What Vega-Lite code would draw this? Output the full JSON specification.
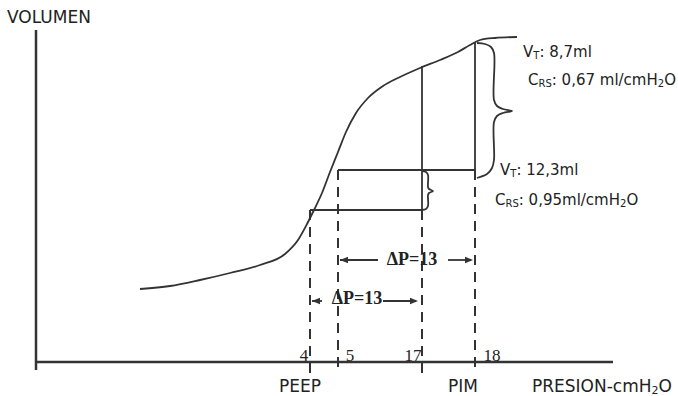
{
  "$schema": "https://vega.github.io/schema/vega-lite/v6.json",
  "width": 678,
  "height": 396,
  "padding": 0,
  "autosize": {"type": "fit", "contains": "padding"},
  "background": "white",
  "config": {"view": {"stroke": null}},
  "datasets": {
    "curve": [
      {"x": 140, "y": 107}, {"x": 170, "y": 110}, {"x": 200, "y": 116}, {"x": 230, "y": 123},
      {"x": 260, "y": 131}, {"x": 285, "y": 142}, {"x": 298, "y": 156}, {"x": 307, "y": 172},
      {"x": 314, "y": 186}, {"x": 322, "y": 203}, {"x": 330, "y": 224}, {"x": 338, "y": 244},
      {"x": 346, "y": 264}, {"x": 356, "y": 283}, {"x": 368, "y": 298}, {"x": 383, "y": 310},
      {"x": 400, "y": 319}, {"x": 420, "y": 328}, {"x": 440, "y": 336}, {"x": 458, "y": 344},
      {"x": 470, "y": 351}, {"x": 480, "y": 356}, {"x": 495, "y": 358}, {"x": 517, "y": 359}
    ],
    "axes": [
      {"x": 36, "y": 366, "x2": 36, "y2": 26},
      {"x": 36, "y": 34, "x2": 613, "y2": 34}
    ],
    "solid": [
      {"x": 338, "y": 226, "x2": 475, "y2": 226},
      {"x": 310, "y": 186, "x2": 422, "y2": 186},
      {"x": 422, "y": 330, "x2": 422, "y2": 186},
      {"x": 475, "y": 354, "x2": 475, "y2": 226},
      {"x": 340, "y": 136, "x2": 378, "y2": 136},
      {"x": 448, "y": 136, "x2": 471, "y2": 136},
      {"x": 312, "y": 95, "x2": 322, "y2": 95},
      {"x": 383, "y": 95, "x2": 416, "y2": 95}
    ],
    "dashed": [
      {"x": 310, "y": 186, "x2": 310, "y2": 23},
      {"x": 338, "y": 226, "x2": 338, "y2": 23},
      {"x": 422, "y": 186, "x2": 422, "y2": 23},
      {"x": 475, "y": 226, "x2": 475, "y2": 23}
    ],
    "braces": [
      {"b": "big", "i": 0, "x": 477, "y": 353}, {"b": "big", "i": 1, "x": 485, "y": 352},
      {"b": "big", "i": 2, "x": 491, "y": 349}, {"b": "big", "i": 3, "x": 494, "y": 343},
      {"b": "big", "i": 4, "x": 494, "y": 296}, {"b": "big", "i": 5, "x": 497, "y": 290},
      {"b": "big", "i": 6, "x": 503, "y": 287}, {"b": "big", "i": 7, "x": 512, "y": 285},
      {"b": "big", "i": 8, "x": 503, "y": 283}, {"b": "big", "i": 9, "x": 497, "y": 280},
      {"b": "big", "i": 10, "x": 494, "y": 274}, {"b": "big", "i": 11, "x": 494, "y": 236},
      {"b": "big", "i": 12, "x": 492, "y": 228}, {"b": "big", "i": 13, "x": 487, "y": 222},
      {"b": "big", "i": 14, "x": 477, "y": 218},
      {"b": "small", "i": 0, "x": 422, "y": 225}, {"b": "small", "i": 1, "x": 426, "y": 224},
      {"b": "small", "i": 2, "x": 428, "y": 221}, {"b": "small", "i": 3, "x": 428, "y": 209},
      {"b": "small", "i": 4, "x": 429, "y": 207}, {"b": "small", "i": 5, "x": 433, "y": 205},
      {"b": "small", "i": 6, "x": 429, "y": 203}, {"b": "small", "i": 7, "x": 428, "y": 201},
      {"b": "small", "i": 8, "x": 428, "y": 190}, {"b": "small", "i": 9, "x": 426, "y": 187},
      {"b": "small", "i": 10, "x": 422, "y": 186}
    ],
    "headsLeft": [{"x": 340, "y": 136}, {"x": 312, "y": 95}],
    "headsRight": [{"x": 473, "y": 136}, {"x": 418, "y": 95}],
    "axisLabelsCenter": [
      {"x": 300, "y": 9, "t": "PEEP"},
      {"x": 463, "y": 9, "t": "PIM"}
    ],
    "axisLabelsLeft": [
      {"x": 7, "y": 378, "t": "VOLUMEN"},
      {"x": 532, "y": 9, "t": "PRESION-cmH"},
      {"x": 658.5, "y": 9, "t": "O"}
    ],
    "axisSub": [{"x": 651.5, "y": 5, "t": "2"}],
    "notes": [
      {"x": 523, "y": 344, "t": "V"}, {"x": 539.4, "y": 344, "t": ": 8,7ml"},
      {"x": 528, "y": 316, "t": "C"}, {"x": 551.8, "y": 316, "t": ": 0,67 ml/cmH"}, {"x": 664.2, "y": 316, "t": "O"},
      {"x": 500, "y": 226, "t": "V"}, {"x": 516.4, "y": 226, "t": ": 12,3ml"},
      {"x": 495, "y": 196, "t": "C"}, {"x": 518.8, "y": 196, "t": ": 0,95ml/cmH"}, {"x": 626.4, "y": 196, "t": "O"}
    ],
    "notesSub": [
      {"x": 533.3, "y": 340, "t": "T"}, {"x": 538.5, "y": 312, "t": "RS"}, {"x": 657.8, "y": 312, "t": "2"},
      {"x": 510.3, "y": 222, "t": "T"}, {"x": 505.5, "y": 192, "t": "RS"}, {"x": 620, "y": 192, "t": "2"}
    ],
    "ticks": [
      {"x": 304, "y": 40, "t": "4"}, {"x": 350, "y": 40, "t": "5"},
      {"x": 413, "y": 40, "t": "17"}, {"x": 492, "y": 40, "t": "18"}
    ],
    "deltas": [
      {"x": 412, "y": 136, "t": "ΔP=13"},
      {"x": 357, "y": 97, "t": "ΔP=13"}
    ]
  },
  "encoding": {
    "x": {"field": "x", "type": "quantitative", "scale": {"domain": [0, 678], "nice": false, "zero": false}, "axis": null},
    "y": {"field": "y", "type": "quantitative", "scale": {"domain": [0, 396], "nice": false, "zero": false}, "axis": null}
  },
  "layer": [
    {"data": {"name": "axes"}, "mark": {"type": "rule", "color": "#333333", "strokeWidth": 2.5},
     "encoding": {"x2": {"field": "x2"}, "y2": {"field": "y2"}}},
    {"data": {"name": "solid"}, "mark": {"type": "rule", "color": "#333333", "strokeWidth": 1.8},
     "encoding": {"x2": {"field": "x2"}, "y2": {"field": "y2"}}},
    {"data": {"name": "dashed"}, "mark": {"type": "rule", "color": "#333333", "strokeWidth": 2, "strokeDash": [10, 7]},
     "encoding": {"x2": {"field": "x2"}, "y2": {"field": "y2"}}},
    {"data": {"name": "curve"}, "mark": {"type": "line", "color": "#333333", "strokeWidth": 1.8, "interpolate": "monotone"},
     "encoding": {}},
    {"data": {"name": "braces"}, "mark": {"type": "line", "color": "#333333", "strokeWidth": 1.8, "interpolate": "catmull-rom"},
     "encoding": {"detail": {"field": "b"}, "order": {"field": "i", "type": "quantitative"}}},
    {"data": {"name": "headsLeft"}, "mark": {"type": "point", "filled": true, "color": "#333333", "opacity": 1, "size": 256, "shape": "M0,0L1,-0.4L1,0.4Z"}},
    {"data": {"name": "headsRight"}, "mark": {"type": "point", "filled": true, "color": "#333333", "opacity": 1, "size": 256, "shape": "M0,0L-1,-0.4L-1,0.4Z"}},
    {"data": {"name": "axisLabelsCenter"}, "mark": {"type": "text", "font": "DejaVu Sans", "fontSize": 17, "align": "center", "baseline": "middle", "color": "#222222"},
     "encoding": {"text": {"field": "t"}}},
    {"data": {"name": "axisLabelsLeft"}, "mark": {"type": "text", "font": "DejaVu Sans", "fontSize": 17, "align": "left", "baseline": "middle", "color": "#222222"},
     "encoding": {"text": {"field": "t"}}},
    {"data": {"name": "axisSub"}, "mark": {"type": "text", "font": "DejaVu Sans", "fontSize": 11, "align": "left", "baseline": "middle", "color": "#222222"},
     "encoding": {"text": {"field": "t"}}},
    {"data": {"name": "notes"}, "mark": {"type": "text", "font": "DejaVu Sans", "fontSize": 15, "align": "left", "baseline": "middle", "color": "#222222"},
     "encoding": {"text": {"field": "t"}}},
    {"data": {"name": "notesSub"}, "mark": {"type": "text", "font": "DejaVu Sans", "fontSize": 10, "align": "left", "baseline": "middle", "color": "#222222"},
     "encoding": {"text": {"field": "t"}}},
    {"data": {"name": "ticks"}, "mark": {"type": "text", "font": "Liberation Serif", "fontSize": 17, "align": "center", "baseline": "middle", "color": "#222222"},
     "encoding": {"text": {"field": "t"}}},
    {"data": {"name": "deltas"}, "mark": {"type": "text", "font": "Liberation Serif", "fontSize": 18, "fontWeight": "bold", "align": "center", "baseline": "middle", "color": "#222222"},
     "encoding": {"text": {"field": "t"}}}
  ]
}
